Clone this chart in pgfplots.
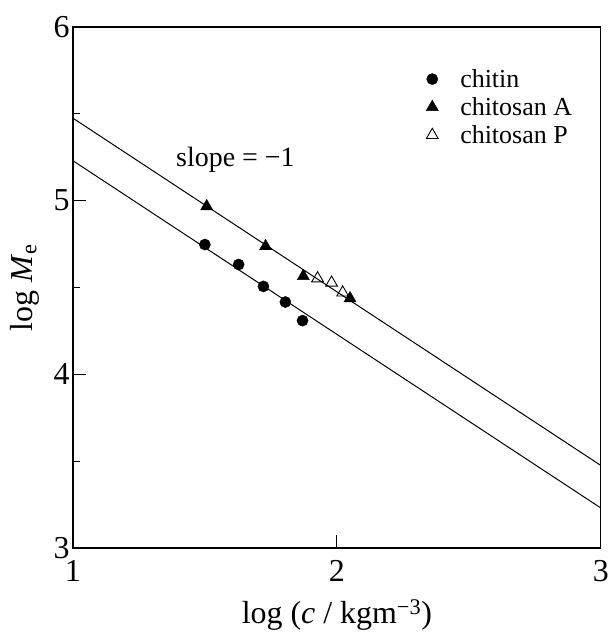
\documentclass[border=0pt]{standalone}
\usepackage{fontspec}
\setmainfont{Liberation Serif}
\usepackage{pgfplots}
\pgfplotsset{compat=1.18}
\begin{document}
\begin{tikzpicture}
\begin{axis}[
    scale only axis,
    width=529pt, height=522pt,
    xmin=1, xmax=3, ymin=3, ymax=6,
    xtick={1,2,3}, ytick={3,4,5,6},
    minor ytick={3.5,4.5,5.5},
    xtick pos=bottom, ytick pos=left,
    tick align=inside,
    major tick length=13pt, minor tick length=7pt,
    tick style={black, line width=0.9pt},
    axis line style={line width=1.3pt},
    /pgf/number format/assume math mode=true,
    ticklabel style={font=\fontsize{32}{38}\selectfont, inner sep=0pt},
    xticklabel style={anchor=base, yshift=-34pt},
    yticklabel style={xshift=-3pt},
    label style={font=\fontsize{32}{38}\selectfont},
    xlabel={log (\textit{c} / kgm\textsuperscript{−3})},
    xlabel style={at={(axis description cs:0.5,0)}, anchor=base, yshift=-76pt},
    ylabel={log \textit{M}\textsubscript{e}},
    ylabel style={at={(axis description cs:-0.0907,0.5)}, anchor=center},
    legend style={draw=none, fill=none, at={(axis cs:2.3265,5.78)}, anchor=north west,
        font=\fontsize{26}{30}\selectfont, row sep=4.5pt, column sep=20pt},
    legend cell align=left,
    clip=false,
]
\addplot[only marks, mark=*, mark size=5.6pt, black] coordinates {
    (1.500, 4.747) (1.628, 4.632) (1.722, 4.506) (1.805, 4.416) (1.870, 4.309)
};
\addlegendentry{chitin}
\addplot[only marks, mark=triangle*, mark size=7pt, black] coordinates {
    (1.507, 4.967) (1.730, 4.737) (1.873, 4.565) (2.050, 4.437)
};
\addlegendentry{chitosan A}
\addplot[only marks, mark=triangle, mark size=6.8pt, black, mark options={line width=0.9pt}] coordinates {
    (1.927, 4.552) (1.980, 4.527) (2.022, 4.470)
};
\addlegendentry{chitosan P}
% two lines of slope -1
\addplot[black, line width=1pt, forget plot] coordinates {(1, 5.475) (3, 3.475)};
\addplot[black, line width=1pt, forget plot] coordinates {(1, 5.230) (3, 3.230)};
\node[font=\fontsize{28}{33}\selectfont, anchor=base] at (axis cs:1.616, 5.195) {slope = −1};
\end{axis}
\path (current axis.south west) ++(-73pt,-85pt) rectangle ++(610pt,634pt);
\end{tikzpicture}
\end{document}
